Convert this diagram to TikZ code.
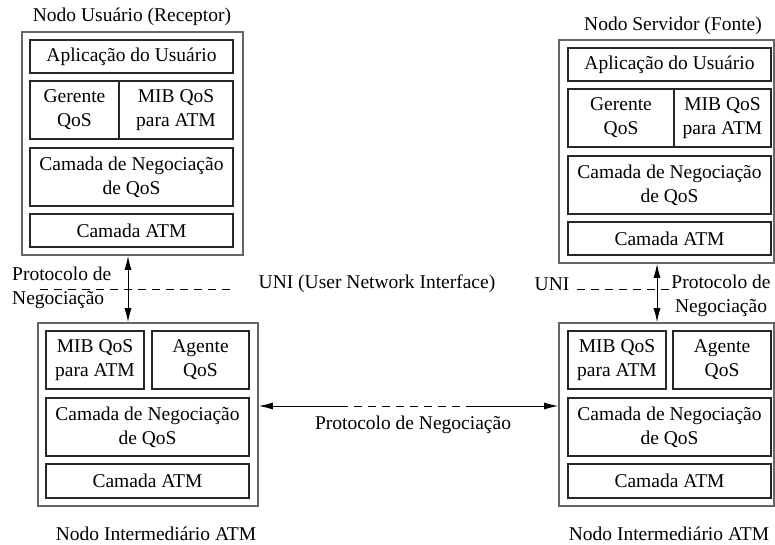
\documentclass[tikz,border=0pt]{standalone}
\usepackage{fontspec}
\setmainfont{Liberation Serif}
\usetikzlibrary{arrows.meta}
\newcommand\bx[6]{\node[ibox, minimum width={#4-#2}, minimum height={#5-#3}] (#1) at ({(#2+#4)/2},{(#3+#5)/2}) {#6};}
\newcommand\ob[5]{\node[obox, minimum width={#4-#2}, minimum height={#5-#3}] (#1) at ({(#2+#4)/2},{(#3+#5)/2}) {};}
\begin{document}
\begin{tikzpicture}[x=1pt,y=-1pt,
  every node/.style={font=\fontsize{19.5}{24}\selectfont, text=black},
  ibox/.style={draw=black!85, line width=1.1pt, inner sep=0pt, align=center},
  obox/.style={draw=black!60, line width=1.6pt, inner sep=0pt},
  lbl/.style={inner sep=0pt, align=center},
  arr/.style={line width=1pt, {Latex[length=14pt,width=7pt]}-{Latex[length=14pt,width=7pt]}},
  dsh/.style={line width=0.9pt, dash pattern=on 8pt off 6pt}]
\useasboundingbox (0,0) rectangle (775,544);
% user node
\ob{U}{22}{32}{243}{255}
\bx{Uapp}{30}{40}{233}{73}{Aplicação do Usuário}
\bx{Uger}{30}{81}{119}{139}{Gerente\\QoS}
\bx{Umib}{119}{81}{233}{139}{MIB QoS\\para ATM}
\bx{Uneg}{30}{148}{233}{206}{Camada de Negociação\\de QoS}
\bx{Uatm}{30}{214}{233}{247}{Camada ATM}
\node[lbl] (Ut) at (132,17) {Nodo Usuário (Receptor)};
% server node
\ob{S}{559}{40}{774}{263}
\bx{Sapp}{568}{48}{771}{81}{Aplicação do Usuário}
\bx{Sger}{568}{89}{674}{147}{Gerente\\QoS}
\bx{Smib}{674}{89}{771}{147}{MIB QoS\\para ATM}
\bx{Sneg}{568}{156}{771}{214}{Camada de Negociação\\de QoS}
\bx{Satm}{568}{222}{771}{255}{Camada ATM}
\node[lbl] (St) at (673,26) {Nodo Servidor (Fonte)};
% intermediate left
\ob{I}{38}{323}{258}{506}
\bx{Imib}{46}{331}{144}{389}{MIB QoS\\para ATM}
\bx{Iage}{152}{331}{249}{389}{Agente\\QoS}
\bx{Ineg}{46}{398}{249}{456}{Camada de Negociação\\de QoS}
\bx{Iatm}{46}{464}{249}{498}{Camada ATM}
\node[lbl] (It) at (156,534) {Nodo Intermediário ATM};
% intermediate right
\ob{J}{559}{323}{774}{506}
\bx{Jmib}{568}{331}{666}{389}{MIB QoS\\para ATM}
\bx{Jage}{673}{331}{771}{389}{Agente\\QoS}
\bx{Jneg}{568}{398}{771}{456}{Camada de Negociação\\de QoS}
\bx{Jatm}{568}{464}{771}{498}{Camada ATM}
\node[lbl] (Jt) at (669,534) {Nodo Intermediário ATM};
% left UNI
\coordinate (ua) at (128,0);
\coordinate (d1) at (40,289);
\coordinate (d2) at (232,289);
\draw[dsh] (d1) -- (d2);
\draw[arr] (U.south -| ua) -- (I.north -| ua);
\node[lbl, anchor=west, align=left] (Lp) at (12,288) {Protocolo de\\Negociação};
\node[lbl] (Uni) at (377,284) {UNI (User Network Interface)};
% right UNI
\coordinate (sa) at (657,0);
\coordinate (e1) at (577,289);
\coordinate (e2) at (672,289);
\draw[dsh] (e1) -- (e2);
\draw[arr] (S.south -| sa) -- (J.north -| sa);
\node[lbl] (Uni2) at (552,284) {UNI};
\node[lbl] (Rp) at (721,296) {Protocolo de\\Negociação};
% horizontal
\coordinate (h1) at (340,406);
\coordinate (h2) at (473,406);
\draw[line width=1pt, -{Latex[length=14pt,width=7pt]}] (h1) -- (I.east |- h1);
\draw[line width=1pt, -{Latex[length=14pt,width=7pt]}] (h2) -- (J.west |- h2);
\draw[dsh] (h1) -- (h2);
\node[lbl] (Hp) at (413,425) {Protocolo de Negociação};
\end{tikzpicture}
\end{document}
